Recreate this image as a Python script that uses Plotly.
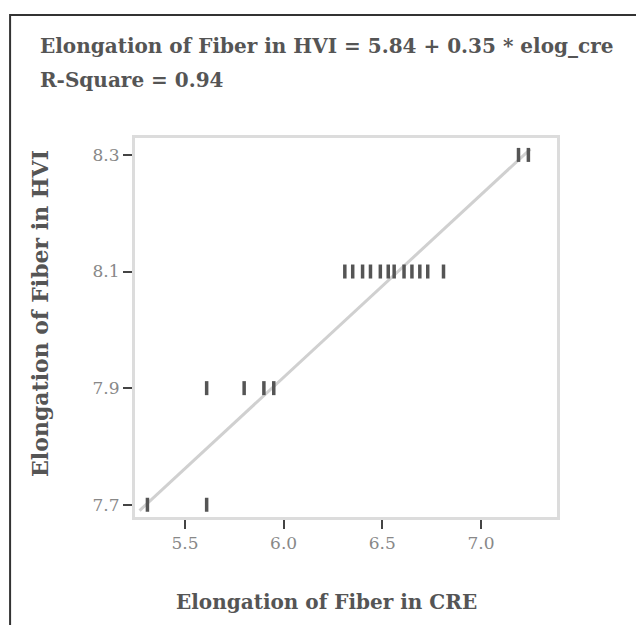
import plotly.graph_objects as go

# Data
cre_top = [7.19, 7.24]
cre_mid = [6.31, 6.35, 6.40, 6.44, 6.49, 6.53, 6.56, 6.61, 6.65, 6.69, 6.73, 6.81]
cre_low = [5.61, 5.80, 5.90, 5.95]
cre_bot = [5.31, 5.61]
hvi_levels = [8.3, 8.1, 7.9, 7.7]

x_vals = cre_top + cre_mid + cre_low + cre_bot
y_vals = ([hvi_levels[0]] * len(cre_top) + [hvi_levels[1]] * len(cre_mid)
          + [hvi_levels[2]] * len(cre_low) + [hvi_levels[3]] * len(cre_bot))

fit_x = [5.27, 7.25]
fit_y = [7.69, 8.31]

x_ticks = [5.5, 6.0, 6.5, 7.0]
x_tick_labels = ["5.5", "6.0", "6.5", "7.0"]
y_ticks = [7.7, 7.9, 8.1, 8.3]
y_tick_labels = ["7.7", "7.9", "8.1", "8.3"]

title_line1 = "<b>Elongation of Fiber in HVI = 5.84 + 0.35 * elog_cre</b>"
title_line2 = "<b>R-Square = 0.94</b>"
x_title = "<b>Elongation of Fiber in CRE</b>"
y_title = "<b>Elongation of Fiber in HVI</b>"

FONT = "DejaVu Serif"

fig = go.Figure()
fig.add_trace(go.Scatter(x=fit_x, y=fit_y, mode="lines",
                         line=dict(color="#d0d0d0", width=3), hoverinfo="skip"))
fig.add_trace(go.Scatter(x=x_vals, y=y_vals, mode="markers",
                         marker=dict(symbol="line-ns", size=10,
                                     line=dict(color="#555555", width=3.5))))

fig.update_layout(
    width=644, height=625,
    margin=dict(l=127, r=95, t=130, b=116),
    paper_bgcolor="white", plot_bgcolor="white",
    showlegend=False,
    font=dict(family=FONT, color="#555555"),
    xaxis=dict(range=[5.247, 7.385], tickvals=x_ticks, ticktext=x_tick_labels,
               showgrid=False, zeroline=False, showline=True, mirror=True,
               linecolor="#dcdcdc", linewidth=3,
               ticks="outside", ticklen=9, tickwidth=2, tickcolor="#444444",
               tickfont=dict(family=FONT, size=17, color="#888888")),
    yaxis=dict(range=[7.679, 8.329], tickvals=y_ticks, ticktext=y_tick_labels,
               showgrid=False, zeroline=False, showline=True, mirror=True,
               linecolor="#dcdcdc", linewidth=3,
               ticks="outside", ticklen=9, tickwidth=2, tickcolor="#444444",
               tickfont=dict(family=FONT, size=17, color="#888888")),
    shapes=[dict(type="rect", xref="paper", yref="paper",
                 x0=-0.296, x1=1.25, y0=-0.33, y1=1.3245,
                 line=dict(color="#333333", width=2))],
    annotations=[
        dict(text=title_line1, xref="paper", yref="paper", x=-0.2299, y=1.2427,
             xanchor="left", yanchor="middle", showarrow=False,
             font=dict(family=FONT, size=20, color="#555555")),
        dict(text=title_line2, xref="paper", yref="paper", x=-0.2299, y=1.153,
             xanchor="left", yanchor="middle", showarrow=False,
             font=dict(family=FONT, size=20, color="#555555")),
        dict(text=x_title, xref="paper", yref="paper", x=0.453, y=-0.225,
             xanchor="center", yanchor="middle", showarrow=False,
             font=dict(family=FONT, size=20, color="#555555")),
        dict(text=y_title, xref="paper", yref="paper", x=-0.225, y=0.536,
             xanchor="center", yanchor="middle", showarrow=False, textangle=-90,
             font=dict(family=FONT, size=22, color="#555555")),
    ],
)

fig.write_html("out.html")
